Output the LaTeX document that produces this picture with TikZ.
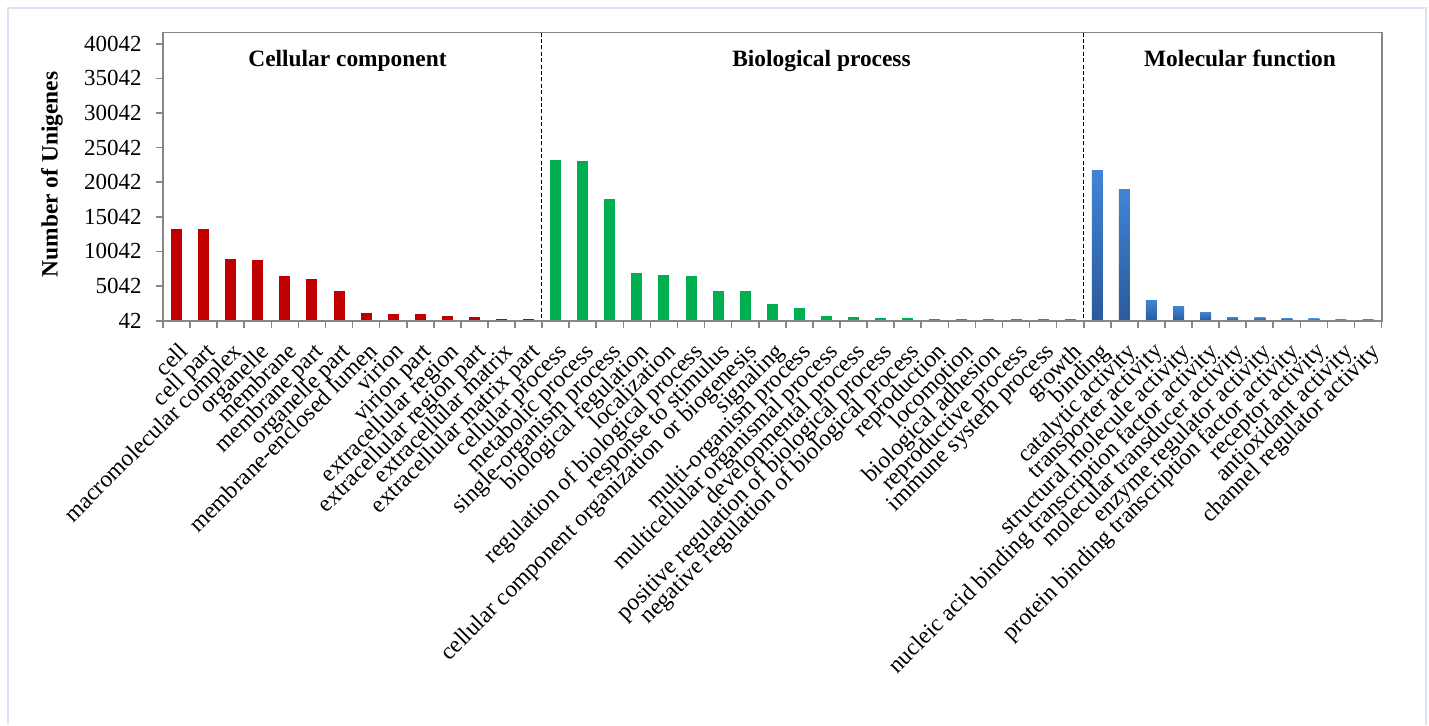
\documentclass[tikz,border=0pt]{standalone}
\usepackage{fontspec}
\setmainfont{Liberation Serif}
\usepackage{xcolor}
\usepackage{tikz}

\definecolor{ccred}{HTML}{C00000}
\definecolor{bpgreen}{HTML}{00B050}
\definecolor{mflight}{HTML}{4084D6}
\definecolor{mfdark}{HTML}{2A5A9C}
\definecolor{framebl}{HTML}{D5E3F3}
\definecolor{axgray}{HTML}{868686}

\tikzset{
  catlabel/.style={rotate=45, anchor=north east, inner sep=0pt, font=\fontsize{11.8}{13}\selectfont},
  ticklabel/.style={anchor=east, inner sep=0pt, font=\fontsize{11.5}{13}\selectfont},
  grouptitle/.style={anchor=base, inner sep=0pt, font=\bfseries\fontsize{11.7}{13}\selectfont},
  divider/.style={black, line width=0.6pt, dash pattern=on 2pt off 1.2pt},
}

\begin{document}
\begin{tikzpicture}[x=0.5pt, y=-0.5pt]
    \useasboundingbox (0,0) rectangle (1429,725);
    % Frame
    \draw[framebl, line width=1pt] (8,725) -- (8,7.5) -- (1426,7.5) -- (1426,725);

    % Cellular component bars (thousands of unigenes)
    \foreach \v [count=\i from 0] in {13.280,13.280,8.908,8.807,6.540,6.020,4.374,1.110,1.010,1.010,0.720,0.576,0.300,0.300}
        \fill[ccred] (163+27.08*\i+8.04,320.7) rectangle (163+27.08*\i+19.04,{320.7-(\v-0.042)*6.925});

    % Biological process bars
    \foreach \v [count=\i from 14] in {23.204,23.060,17.572,6.973,6.641,6.540,4.287,4.287,2.453,1.919,0.721,0.576,0.420,0.420,0.320,0.320,0.320,0.260,0.260,0.260}
        \fill[bpgreen] (163+27.08*\i+8.04,320.7) rectangle (163+27.08*\i+19.04,{320.7-(\v-0.042)*6.925});

    % Molecular function bars
    \foreach \v [count=\i from 34] in {21.702,19.060,3.031,2.064,1.298,0.576,0.475,0.420,0.320,0.260,0.260}
        \shade[top color=mflight, bottom color=mfdark] (163+27.08*\i+8.04,320.7) rectangle (163+27.08*\i+19.04,{320.7-(\v-0.042)*6.925});

    % Plot box and dividers
    \draw[axgray, line width=0.8pt] (163,32.5) rectangle (1381.7,320.7);
    \draw[divider] (541.1,32.5) -- (541.1,320.7);
    \draw[divider] (1083.7,32.5) -- (1083.7,320.7);

    % Y axis
    \foreach \k/\tv in {0/42,1/5042,2/10042,3/15042,4/20042,5/25042,6/30042,7/35042,8/40042} {
        \draw[axgray, line width=0.8pt] (156,320.7-34.625*\k) -- (163,320.7-34.625*\k);
        \node[ticklabel] (ytick-\k) at (142,320.7-34.625*\k) {\tv};
    }
    \node[rotate=90, inner sep=0pt, font=\bfseries\fontsize{11.7}{13}\selectfont] (ytitle) at (52,174.5) {Number of Unigenes};

    % X ticks
    \foreach \k in {0,...,45}
        \draw[axgray, line width=0.8pt] (163+27.08*\k,320.7) -- (163+27.08*\k,327.5);

    % Group titles
    \node[grouptitle] (cc-title) at (347.5,66) {Cellular component};
    \node[grouptitle] (bp-title) at (821.5,66) {Biological process};
    \node[grouptitle] (mf-title) at (1240,66) {Molecular function};

    % Category labels
    \foreach \lab [count=\i from 0] in {cell,cell part,macromolecular complex,organelle,membrane,membrane part,organelle part,membrane-enclosed lumen,virion,virion part,extracellular region,extracellular region part,extracellular matrix,extracellular matrix part,
        cellular process,metabolic process,single-organism process,biological regulation,localization,regulation of biological process,response to stimulus,cellular component organization or biogenesis,signaling,multi-organism process,multicellular organismal process,developmental process,positive regulation of biological process,negative regulation of biological process,reproduction,locomotion,biological adhesion,reproductive process,immune system process,growth,
        binding,catalytic activity,transporter activity,structural molecule activity,nucleic acid binding transcription factor activity,molecular transducer activity,enzyme regulator activity,protein binding transcription factor activity,receptor activity,antioxidant activity,channel regulator activity}
        \node[catlabel] (cat-\i) at (163+27.08*\i+14.5,341) {\lab};
\end{tikzpicture}
\end{document}
